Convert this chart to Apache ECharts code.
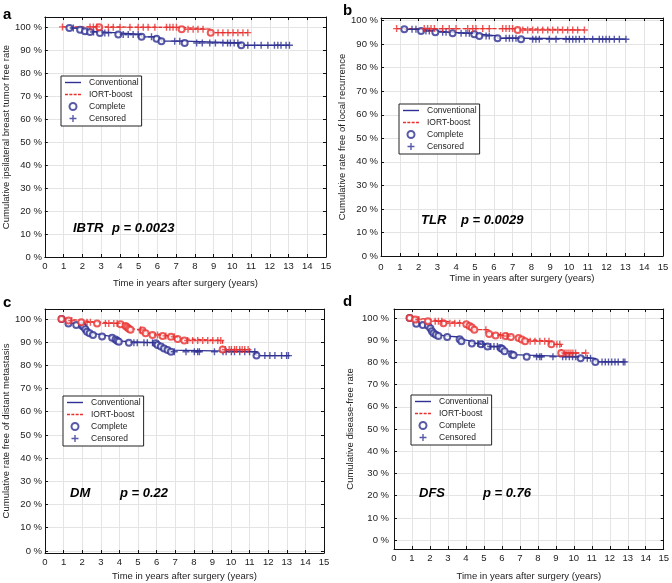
<!DOCTYPE html>
<html><head><meta charset="utf-8">
<script src="https://cdn.jsdelivr.net/npm/echarts@6/dist/echarts.min.js"></script>
<style>html,body{margin:0;padding:0;background:#fff}#c{width:672px;height:583px}</style>
</head><body><div id="c"></div>
<script>
// ---------- data ----------
const xTickValues = [0,1,2,3,4,5,6,7,8,9,10,11,12,13,14,15];
const yTickValues = [0,10,20,30,40,50,60,70,80,90,100];
const legendNames = ['Conventional','IORT-boost','Complete','Censored'];

// Panel a (IBTR)
const aConvStart = [1.31, 99.5];
const aConvEvents = [[1.31,99.5],[1.88,98.8],[2.14,98.1],[2.41,97.8],[2.94,97.4],[3.92,96.7],[5.16,95.7],[5.96,94.9],[6.22,93.8],[7.46,93.0],[10.48,92.0]];
const aConvCensor = [1.52,2.6,3.2,3.4,4.18,4.45,4.71,4.98,5.69,6.93,7.2,8.1,8.4,8.8,9.1,9.5,9.75,9.9,10.1,10.3,10.83,11.19,11.54,11.9,12.25,12.43,12.6,12.87,13.05];
const aIortStart = [0.94, 100];
const aIortEvents = [[2.9,99.8],[7.3,99.0],[8.85,97.5]];
const aIortCensor = [0.94,2.41,2.59,2.77,3.39,3.65,4.01,4.54,4.98,5.25,5.51,5.87,6.49,6.67,6.84,7.02,7.64,7.91,8.17,8.44,9.24,9.5,9.77,10.04,10.3,10.57,10.83];

// Panel b (TLR)
const bConvStart = [1.24, 96.3];
const bConvEvents = [[1.24,96.3],[2.13,95.6],[2.89,95.0],[3.81,94.6],[4.96,94.2],[5.23,93.5],[6.2,92.5],[7.45,92.1]];
const bConvCensor = [1.65,1.86,2.39,2.57,3.28,3.46,4.26,4.52,4.7,5.59,5.76,6.65,6.83,7.0,7.18,8.07,8.24,8.42,8.95,9.31,9.84,10.02,10.2,10.37,10.55,10.82,11.26,11.61,11.79,11.97,12.15,12.41,12.68,13.03];
const bIortStart = [0.83, 96.6];
const bIortEvents = [[7.27,96.0]];
const bIortCensor = [0.83,2.3,2.48,2.66,2.84,3.28,3.63,3.99,4.61,4.88,5.05,5.41,5.76,6.47,6.65,6.83,7.0,7.54,7.8,8.07,8.34,8.6,8.87,9.13,9.4,9.66,9.93,10.2,10.46,10.82];

// Panel c (DM)
const cConvStart = [0.9, 100];
const cConvEvents = [[0.9,100],[1.26,98.1],[1.68,97.4],[1.99,97.1],[2.07,96.7],[2.17,95.6],[2.26,94.5],[2.4,93.8],[2.58,93.1],[3.07,92.4],[3.61,91.9],[3.79,91.2],[3.88,90.6],[3.97,90.2],[4.51,89.8],[5.96,89.5],[6.05,88.8],[6.23,88.1],[6.4,87.3],[6.59,86.6],[6.77,85.9],[11.37,84.2]];
const cConvCensor = [4.78,4.96,5.32,5.5,5.78,6.95,7.58,8.03,8.21,8.3,9.11,9.57,9.74,10.02,10.19,10.47,10.74,11.0,11.28,11.82,12.09,12.36,12.72,12.99,13.09];
const cIortStart = [0.88, 100];
const cIortEvents = [[0.88,100],[1.26,99.3],[1.95,98.6],[2.8,98.1],[4.06,97.7],[4.33,97.0],[4.42,96.4],[4.51,95.8],[4.6,95.3],[5.24,95.0],[5.41,93.8],[5.78,93.1],[6.32,92.7],[6.77,92.3],[7.13,91.4],[7.49,90.7],[9.55,86.8]];
const cIortCensor = [1.44,2.26,2.44,3.25,3.43,3.7,3.88,5.14,6.05,6.5,6.95,7.67,7.94,8.21,8.48,8.75,9.02,9.29,9.45,9.7,9.9,10.02,10.19,10.3,10.47,10.6,10.74,10.92];

// Panel d (DFS)
const dConvStart = [0.87, 100];
const dConvEvents = [[0.87,100],[1.24,97.4],[1.6,96.8],[1.89,96.5],[2.02,95.3],[2.11,94.0],[2.2,93.1],[2.33,92.4],[2.47,91.8],[2.96,91.4],[3.65,90.4],[3.75,89.5],[4.33,88.5],[4.84,88.1],[5.2,87.1],[5.93,86.4],[6.02,86.0],[6.15,85.0],[6.56,83.5],[6.65,83.2],[7.38,82.5],[10.38,81.8],[11.2,80.2]];
const dConvCensor = [4.67,4.93,5.38,5.56,5.75,7.93,8.11,8.2,8.84,9.38,9.56,9.75,9.93,10.11,10.75,10.93,11.57,11.75,11.93,12.11,12.29,12.47,12.75,12.84];
const dIortStart = [0.87, 100];
const dIortEvents = [[0.87,100],[1.18,99.3],[1.89,98.5],[2.75,97.6],[4.02,97.1],[4.2,96.4],[4.33,95.7],[4.47,94.7],[5.29,92.8],[5.65,92.1],[6.2,91.8],[6.5,91.4],[6.93,91.0],[7.11,90.3],[7.29,89.5],[8.75,88.1],[9.3,84.2]];
const dIortCensor = [1.38,2.29,2.47,2.66,3.11,3.38,3.65,5.11,5.93,6.29,7.57,7.84,8.11,8.38,8.62,9.06,9.22,9.51,9.62,9.73,9.84,9.95,10.1,10.66];

// ---------- layout / styles ----------
const BLUE = '#2e3192', RED = '#e8312f';
const FONT = 'Liberation Sans, Arial, sans-serif';
const CROSS = 'path://M4,0h2v4h4v2h-4v4h-2v-4h-4v-2h4z';
const SOLID_ICON = 'path://M0,0h16v1.4h-16z';
const DASH_ICON = 'path://M0,0h3v1.4h-3zM4.3,0h3v1.4h-3zM8.6,0h3v1.4h-3zM12.9,0h3v1.4h-3z';

const panels = [
  {letter:'a', grid:{left:43,top:17,width:283,height:240}, ymin:0, ymax:104.3,
   yName:'Cumulative ipsilateral breast tumor free rate', yGap:25, xGap:21, xMargin:4, yMargin:3,
   legend:{left:61,top:76}, lpos:[3,15], tag:'IBTR', tpos:[73,230], p:'p = 0.0023', ppos:[112,230],
   conv:[aConvStart,aConvEvents,aConvCensor], iort:[aIortStart,aIortEvents,aIortCensor]},
  {letter:'b', grid:{left:381,top:18,width:282,height:238}, ymin:0, ymax:101.1,
   yName:'Cumulative rate free of local recurrence', yGap:31, xGap:15, xMargin:6, yMargin:3,
   legend:{left:399,top:104}, lpos:[343,11], tag:'TLR', tpos:[421,222], p:'p = 0.0029', ppos:[461,222],
   conv:[bConvStart,bConvEvents,bConvCensor], iort:[bIortStart,bIortEvents,bIortCensor]},
  {letter:'c', grid:{left:45,top:309,width:279,height:244}, ymin:-0.9, ymax:104.3,
   yName:'Cumulative rate free of distant metastasis', yGap:34, xGap:18, xMargin:4, yMargin:3,
   legend:{left:63,top:396}, lpos:[3,303], tag:'DM', tpos:[70,495], p:'p = 0.22', ppos:[120,495],
   conv:[cConvStart,cConvEvents,cConvCensor], iort:[cIortStart,cIortEvents,cIortCensor]},
  {letter:'d', grid:{left:394,top:309,width:275,height:240}, ymin:-4, ymax:104,
   yName:'Cumulative disease-free rate', yGap:39, xGap:22, xMargin:4, yMargin:5,
   legend:{left:411,top:395}, lpos:[343,302], tag:'DFS', tpos:[419,495], p:'p = 0.76', ppos:[483,495],
   conv:[dConvStart,dConvEvents,dConvCensor], iort:[dIortStart,dIortEvents,dIortCensor]}
];

function stepLine(start, events, censor) {
  const pts = [[start[0], start[1]]];
  events.forEach(e => pts.push([e[0], e[1]]));
  const lastEv = events.length ? events[events.length-1][0] : start[0];
  const lastT = Math.max(lastEv, ...censor);
  pts.push([lastT, pts[pts.length-1][1]]);
  return pts;
}
function valueAt(start, events, t) {
  let v = start[1];
  events.forEach(e => { if (e[0] <= t) v = e[1]; });
  return v;
}

const grid = [], xAxis = [], yAxis = [], series = [], legend = [], graphic = [];
panels.forEach((P, i) => {
  grid.push(Object.assign({containLabel:false}, P.grid));
  const axisLine = {show:true, onZero:false, lineStyle:{color:'#111', width:1}};
  xAxis.push({type:'value', gridIndex:i, min:0, max:15, interval:1,
    axisLine, axisTick:{show:true, inside:true, length:3, lineStyle:{color:'#111'}},
    axisLabel:{margin:P.xMargin, fontSize:9.5, color:'#222', fontFamily:FONT},
    splitLine:{show:true, lineStyle:{color:'#e4e4e4', width:1}},
    name:'Time in years after surgery (years)', nameLocation:'middle', nameGap:P.xGap,
    nameTextStyle:{fontSize:9.5, color:'#222', fontFamily:FONT}});
  xAxis.push({type:'value', gridIndex:i, min:0, max:15, interval:1, position:'top',
    axisLine, axisTick:{show:true, inside:true, length:3, lineStyle:{color:'#111'}},
    axisLabel:{show:false}, splitLine:{show:false}});
  yAxis.push({type:'value', gridIndex:i, min:P.ymin, max:P.ymax,
    axisLine, axisTick:{show:true, inside:true, length:3, customValues:yTickValues, lineStyle:{color:'#111'}},
    axisLabel:{margin:P.yMargin, fontSize:9.5, color:'#222', fontFamily:FONT, customValues:yTickValues,
      formatter:v => v + ' %'},
    splitLine:{show:true, lineStyle:{color:'#e4e4e4', width:1}},
    name:P.yName, nameLocation:'middle', nameGap:P.yGap,
    nameTextStyle:{fontSize:9.5, color:'#222', fontFamily:FONT}});
  yAxis.push({type:'value', gridIndex:i, min:P.ymin, max:P.ymax, position:'right',
    axisLine, axisTick:{show:true, inside:true, length:3, customValues:yTickValues, lineStyle:{color:'#111'}},
    axisLabel:{show:false}, splitLine:{show:false}});
  const xi = i*2, yi = i*2;
  const [cs, ce, cc] = P.conv, [is, ie, ic] = P.iort;
  series.push({type:'line', name:'Conventional', xAxisIndex:xi, yAxisIndex:yi, step:'end', symbol:'none',
    lineStyle:{color:BLUE, width:1.3}, itemStyle:{color:BLUE}, data:stepLine(cs, ce, cc), z:2});
  series.push({type:'line', name:'IORT-boost', xAxisIndex:xi, yAxisIndex:yi, step:'end', symbol:'none',
    lineStyle:{color:RED, width:1.3, type:[4,2]}, itemStyle:{color:RED}, data:stepLine(is, ie, ic), z:3});
  series.push({type:'scatter', name:'Complete', xAxisIndex:xi, yAxisIndex:yi, symbol:'emptyCircle', symbolSize:6,
    itemStyle:{color:BLUE, borderColor:BLUE, borderWidth:1.2}, data:ce, z:4});
  series.push({type:'scatter', name:'Censored', xAxisIndex:xi, yAxisIndex:yi, symbol:CROSS, symbolSize:7,
    itemStyle:{color:BLUE}, data:cc.map(t => [t, valueAt(cs, ce, t)]), z:4});
  series.push({type:'scatter', name:'Complete', xAxisIndex:xi, yAxisIndex:yi, symbol:'emptyCircle', symbolSize:6,
    itemStyle:{color:RED, borderColor:RED, borderWidth:1.2}, data:ie, z:5});
  series.push({type:'scatter', name:'Censored', xAxisIndex:xi, yAxisIndex:yi, symbol:CROSS, symbolSize:7,
    itemStyle:{color:RED}, data:ic.map(t => [t, valueAt(is, ie, t)]), z:5});
  legend.push({left:P.legend.left, top:P.legend.top, orient:'vertical', selectedMode:false,
    backgroundColor:'#fff', borderColor:'#222', borderWidth:1, borderRadius:0,
    padding:[2,3,3,4], itemGap:3, itemWidth:16, itemHeight:7,
    textStyle:{fontSize:8.5, color:'#222', fontFamily:FONT, padding:[0,0,0,3]},
    data:[
      {name:'Conventional', icon:SOLID_ICON, itemStyle:{color:BLUE, borderWidth:0}},
      {name:'IORT-boost', icon:DASH_ICON, itemStyle:{color:RED, borderWidth:0}},
      {name:'Complete'},
      {name:'Censored'}
    ]});
  graphic.push({type:'text', left:P.lpos[0], top:P.lpos[1]-8, z:100,
    style:{text:P.letter, font:'bold 15px ' + FONT, fill:'#000'}});
  graphic.push({type:'text', left:P.tpos[0], top:P.tpos[1]-8, z:100,
    style:{text:P.tag, font:'italic bold 13px ' + FONT, fill:'#000'}});
  graphic.push({type:'text', left:P.ppos[0], top:P.ppos[1]-8, z:100,
    style:{text:P.p, font:'italic bold 13px ' + FONT, fill:'#000'}});
});

const chart = echarts.init(document.getElementById('c'), null, {renderer:'canvas'});
chart.setOption({animation:false, backgroundColor:'#fff', grid, xAxis, yAxis, series, legend, graphic});
</script>
</body></html>
